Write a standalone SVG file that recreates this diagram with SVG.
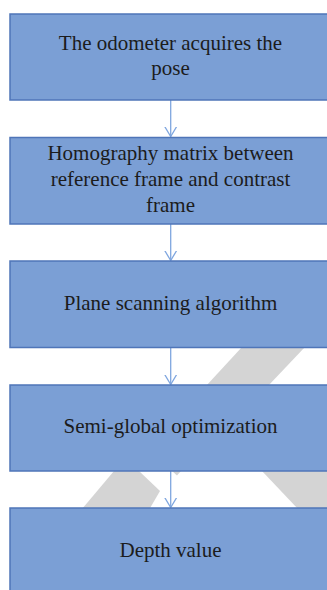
<svg xmlns="http://www.w3.org/2000/svg" width="327" height="590" viewBox="0 0 327 590">
  <defs>
    <style>
      .box { fill: #7b9fd5; stroke: #4f75b8; stroke-width: 1.5; }
      .lbl { font-family: "Liberation Serif", "Times New Roman", serif; font-size: 21px; fill: #1c1c1c; text-anchor: middle; }
      .wm { fill: #d4d4d4; stroke: none; }
      .conn { stroke: #7fa6df; stroke-width: 1.3; fill: none; }
    </style>
    <marker id="arr" markerWidth="14" markerHeight="14" refX="10" refY="6" orient="auto" markerUnits="userSpaceOnUse">
      <path d="M0,0 L10,6 L0,12" fill="none" stroke="#7fa6df" stroke-width="1.3"/>
    </marker>
  </defs>
  <rect width="327" height="590" fill="#ffffff"/>
  <g id="watermark">
    <polygon class="wm" points="242,347 305,347 268,386 206,386"/>
    <polygon class="wm" points="114,471 139,471 160,491 149.5,509 82,509"/>
    <polygon class="wm" points="172,471 181,471 177,475.5"/>
    <polygon class="wm" points="262,471 327,471 327,509 298,509"/>
  </g>
  <g id="connectors">
    <line class="conn" x1="170.7" y1="100" x2="170.7" y2="136.5" marker-end="url(#arr)"/>
    <line class="conn" x1="170.7" y1="224" x2="170.7" y2="260.5" marker-end="url(#arr)"/>
    <line class="conn" x1="170.7" y1="348" x2="170.7" y2="384.5" marker-end="url(#arr)"/>
    <line class="conn" x1="170.7" y1="471" x2="170.7" y2="507.5" marker-end="url(#arr)"/>
  </g>
  <g id="node1">
    <rect class="box" x="10" y="14" width="322" height="86"/>
    <text class="lbl" x="170.5" y="50">The odometer acquires the</text>
    <text class="lbl" x="170.5" y="75">pose</text>
  </g>
  <g id="node2">
    <rect class="box" x="10" y="137.5" width="322" height="86.5"/>
    <text class="lbl" x="170.5" y="160">Homography matrix between</text>
    <text class="lbl" x="170.5" y="185.5">reference frame and contrast</text>
    <text class="lbl" x="170.5" y="211.5">frame</text>
  </g>
  <g id="node3">
    <rect class="box" x="10" y="261" width="322" height="86.5"/>
    <text class="lbl" x="170.5" y="310">Plane scanning algorithm</text>
  </g>
  <g id="node4">
    <rect class="box" x="10" y="385" width="322" height="86"/>
    <text class="lbl" x="170.5" y="433">Semi-global optimization</text>
  </g>
  <g id="node5">
    <rect class="box" x="10" y="508" width="322" height="90"/>
    <text class="lbl" x="170.5" y="557">Depth value</text>
  </g>
</svg>
